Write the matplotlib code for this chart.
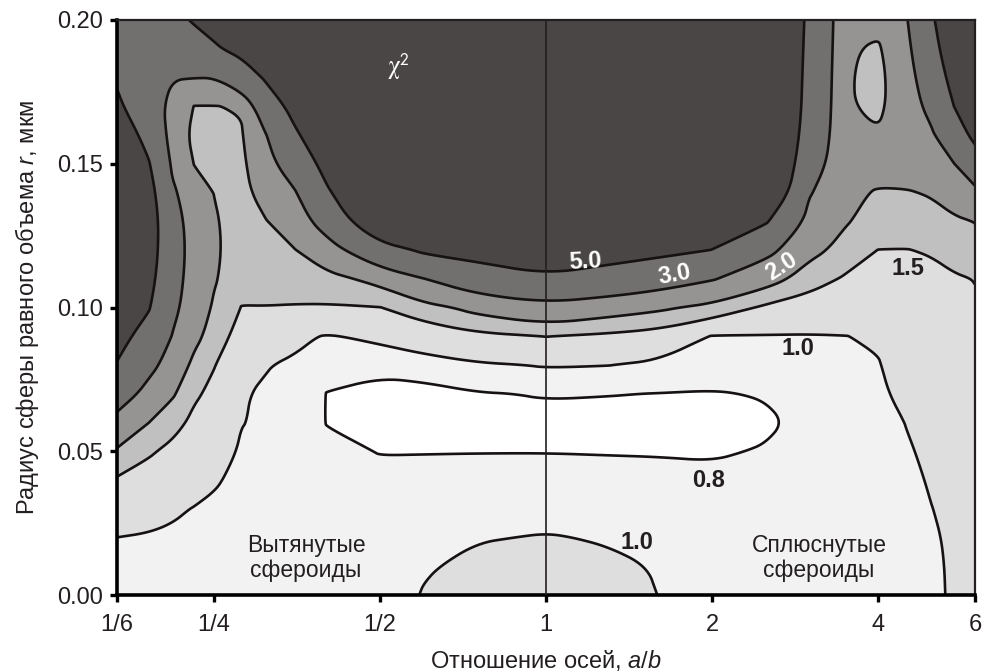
import numpy as np
import matplotlib
matplotlib.use("Agg")
import matplotlib.pyplot as plt
from matplotlib.path import Path
from matplotlib.ticker import FixedLocator, FixedFormatter, NullLocator

plt.rcParams['font.family'] = ['Liberation Sans', 'DejaVu Sans']
plt.rcParams['mathtext.fontset'] = 'custom'
plt.rcParams['mathtext.rm'] = 'Liberation Sans'
plt.rcParams['mathtext.it'] = 'Liberation Sans:italic'
plt.rcParams['mathtext.sf'] = 'Liberation Sans'

# ---- data ---------------------------------------------------------------
# axis ratio a/b of the spheroids (columns of the chi^2 table)
axis_ratio = [1/6, 0.19, 0.21, 0.23, 0.25, 0.28, 0.31, 0.35, 0.40, 0.50,
              0.60, 0.75, 1.00, 1.30, 1.60, 2.00, 2.50, 3.00, 3.50, 4.00,
              4.50, 5.00, 5.50, 6.00]

# radius of the equal-volume sphere r, um (rows of the chi^2 table)
radius = [0.00, 0.01, 0.02, 0.03, 0.04, 0.05, 0.06, 0.07, 0.08, 0.09, 0.10,
          0.11, 0.12, 0.13, 0.14, 0.15, 0.16, 0.17, 0.18, 0.19, 0.20]

# chi^2 versus r, one list per axis ratio
chi2_ab_0_167 = [0.88, 0.94, 0.999, 1.22, 1.446, 1.92, 2.63, 3.64, 4.91, 5.6, 6.0,
                 6.5, 6.8, 7.0, 6.8, 6.6, 6.2, 5.3, 4.8, 4.5, 4.3]
chi2_ab_0_19 = [0.86, 0.918, 0.976, 1.118, 1.322, 1.56, 2.01, 2.63, 3.36, 4.27, 5.15,
                5.6, 5.9, 6.0, 5.7, 5.15, 4.4, 3.8, 3.6, 3.7, 3.9]
chi2_ab_0_21 = [0.86, 0.91, 0.96, 1.04, 1.21, 1.39, 1.655, 2.08, 2.52, 2.96, 3.3,
                3.5, 3.6, 3.5, 3.2, 2.8, 2.5, 2.55, 3.05, 3.6, 4.4]
chi2_ab_0_23 = [0.87, 0.91, 0.95, 0.99, 1.12, 1.26, 1.40, 1.57, 1.83, 2.2, 2.4,
                2.5, 2.55, 2.5, 2.3, 1.98, 1.8, 1.98, 3.02, 4.0, 5.2]
chi2_ab_0_25 = [0.88, 0.91, 0.94, 0.97, 1.02, 1.15, 1.27, 1.39, 1.52, 1.72, 1.92,
                2.06, 2.1, 2.06, 1.99, 1.85, 1.88, 1.98, 3.02, 4.8, 5.6]
chi2_ab_0_28 = [0.88, 0.90, 0.92, 0.94, 0.955, 0.965, 1.01, 1.012, 1.15, 1.32, 1.49,
                1.62, 1.7, 1.75, 1.8, 1.85, 1.93, 2.05, 4.0, 5.5, 6.5]
chi2_ab_0_31 = [0.86, 0.87, 0.88, 0.90, 0.92, 0.94, 0.96, 0.98, 1.01, 1.26, 1.49,
                1.65, 1.8, 1.97, 2.3, 2.61, 2.94, 3.94, 5.2, 6.0, 6.8]
chi2_ab_0_35 = [0.85, 0.855, 0.86, 0.87, 0.88, 0.89, 0.90, 0.93, 0.97, 1.05, 1.47,
                1.73, 1.98, 2.43, 2.9, 3.76, 4.71, 5.6, 6.5, 7.2, 7.8]
chi2_ab_0_40 = [0.85, 0.85, 0.85, 0.85, 0.845, 0.83, 0.795, 0.795, 0.86, 0.98, 1.455,
                1.82, 2.5, 3.59, 4.76, 5.6, 6.5, 7.2, 7.8, 8.3, 8.6]
chi2_ab_0_50 = [0.92, 0.91, 0.89, 0.86, 0.83, 0.795, 0.74, 0.74, 0.85, 1.06, 1.49,
                2.2, 4.2, 7.0, 7.6, 8.0, 8.4, 8.7, 9.0, 9.2, 9.4]
chi2_ab_0_60 = [1.01, 0.985, 0.94, 0.89, 0.84, 0.795, 0.74, 0.755, 0.87, 1.206, 1.79,
                2.98, 5.3, 6.8, 7.6, 8.2, 8.6, 9.0, 9.3, 9.5, 9.6]
chi2_ab_0_75 = [1.08, 1.04, 0.99, 0.92, 0.86, 0.795, 0.75, 0.79, 0.96, 1.39, 2.2,
                3.9, 5.8, 7.0, 7.8, 8.4, 8.8, 9.2, 9.5, 9.7, 9.8]
chi2_ab_1_00 = [1.10, 1.06, 1.01, 0.94, 0.87, 0.795, 0.76, 0.81, 1.02, 1.51, 2.62,
                4.7, 6.5, 7.5, 8.2, 8.7, 9.1, 9.4, 9.7, 9.9, 10.0]
chi2_ab_1_30 = [1.07, 1.03, 0.985, 0.91, 0.86, 0.79, 0.75, 0.805, 1.005, 1.41, 2.3,
                4.15, 5.9, 7.0, 7.8, 8.4, 8.8, 9.2, 9.5, 9.7, 9.8]
chi2_ab_1_60 = [0.998, 0.99, 0.94, 0.89, 0.84, 0.79, 0.75, 0.797, 0.937, 1.29, 2.11,
                3.6, 5.5, 6.6, 7.4, 8.0, 8.5, 8.9, 9.2, 9.4, 9.5]
chi2_ab_2_00 = [0.94, 0.92, 0.89, 0.86, 0.83, 0.785, 0.74, 0.79, 0.88, 0.98, 1.81,
                3.08, 4.98, 6.2, 7.0, 7.6, 8.1, 8.5, 8.8, 9.0, 9.1]
chi2_ab_2_50 = [0.95, 0.93, 0.91, 0.88, 0.85, 0.81, 0.775, 0.81, 0.90, 0.98, 1.415,
                2.29, 3.35, 5.2, 7.0, 7.5, 7.8, 8.0, 8.0, 8.0, 8.0]
chi2_ab_3_00 = [0.95, 0.94, 0.92, 0.90, 0.88, 0.86, 0.84, 0.86, 0.91, 0.98, 1.28,
                1.71, 2.2, 2.64, 3.1, 3.7, 4.1, 4.3, 4.4, 4.5, 4.6]
chi2_ab_3_50 = [0.96, 0.95, 0.94, 0.93, 0.92, 0.91, 0.91, 0.92, 0.95, 0.995, 1.215,
                1.44, 1.78, 2.05, 2.1, 2.1, 2.08, 2.06, 2.06, 2.08, 2.1]
chi2_ab_4_00 = [0.97, 0.965, 0.96, 0.955, 0.95, 0.945, 0.94, 0.95, 0.98, 1.04, 1.23,
                1.37, 1.495, 1.73, 1.96, 2.2, 2.05, 1.85, 1.8, 1.9, 2.2]
chi2_ab_4_50 = [0.98, 0.975, 0.97, 0.97, 0.975, 0.985, 1.004, 1.08, 1.16, 1.25, 1.33,
                1.41, 1.49, 1.72, 1.96, 2.3, 2.4, 2.45, 2.55, 2.7, 2.9]
chi2_ab_5_00 = [0.985, 0.99, 0.993, 0.998, 1.01, 1.03, 1.07, 1.12, 1.18, 1.25, 1.32,
                1.41, 1.53, 1.8, 2.05, 2.45, 2.85, 3.35, 3.8, 4.3, 4.7]
chi2_ab_5_50 = [1.01, 1.008, 1.01, 1.025, 1.05, 1.09, 1.14, 1.2, 1.26, 1.33, 1.39,
                1.46, 1.65, 1.9, 2.38, 2.99, 4.0, 5.02, 5.7, 6.3, 6.8]
chi2_ab_6_00 = [1.08, 1.10, 1.13, 1.16, 1.19, 1.23, 1.27, 1.31, 1.36, 1.41, 1.46,
                1.51, 1.77, 2.02, 2.7, 3.99, 5.5, 6.2, 6.8, 7.2, 7.5]

# isoline levels of chi^2
levels = [0.8, 1.0, 1.5, 2.0, 3.0, 5.0]

# tick positions and labels
x_ticks = [1/6, 1/4, 1/2, 1, 2, 4, 6]
x_tick_labels = ['1/6', '1/4', '1/2', '1', '2', '4', '6']
y_ticks = [0.00, 0.05, 0.10, 0.15, 0.20]
y_tick_labels = ['0.00', '0.05', '0.10', '0.15', '0.20']

# where the level labels are written
label_level = [5.0, 3.0, 2.0, 1.5, 1.0, 0.8, 1.0]
label_ratio = [1.18, 1.714, 2.668, 4.53, 2.864, 1.975, 1.462]
label_radius = [0.1158, 0.1113, 0.1141, 0.1134, 0.0856, 0.0397, 0.0184]
label_angle = [3, 10, 33, 0, 0, 0, 0]
label_color = ['white', 'white', 'white', '#231f20', '#231f20', '#231f20', '#231f20']

X_MIN, X_MAX = 1/6, 6.0
Y_MIN, Y_MAX = 0.0, 0.2


# ---- isoline smoothing (corner cutting in the log-x plane) ------------
def _on_frame(u, y):
    return ((np.abs(u - np.log2(X_MIN)) < 1e-7) | (np.abs(u - np.log2(X_MAX)) < 1e-7)
            | (np.abs(y - Y_MIN) < 1e-9) | (np.abs(y - Y_MAX) < 1e-9))


def _chaikin(pts, closed, n_iter=3):
    for _ in range(n_iter):
        n = len(pts)
        if n < 3:
            return pts
        fixed = _on_frame(pts[:, 0], pts[:, 1])
        out = []
        if closed:
            for i in range(n):
                p, q = pts[i], pts[(i + 1) % n]
                if fixed[i]:
                    out.append(p)
                out.append(0.75 * p + 0.25 * q)
                out.append(0.25 * p + 0.75 * q)
        else:
            out.append(pts[0])
            for i in range(n - 1):
                p, q = pts[i], pts[i + 1]
                if i > 0 and fixed[i]:
                    out.append(p)
                out.append(0.75 * p + 0.25 * q)
                out.append(0.25 * p + 0.75 * q)
            out.append(pts[-1])
        pts = np.array(out)
    return pts


def _smooth_path(path):
    verts = np.asarray(path.vertices, float)
    if len(verts) == 0:
        return path
    codes = path.codes
    if codes is None:
        codes = np.full(len(verts), Path.LINETO, dtype=np.uint8)
        codes[0] = Path.MOVETO
    starts = list(np.flatnonzero(codes == Path.MOVETO)) + [len(verts)]
    new_v, new_c = [], []
    for a, b in zip(starts[:-1], starts[1:]):
        seg_v, seg_c = verts[a:b], codes[a:b]
        closed = seg_c[-1] == Path.CLOSEPOLY
        pts = seg_v[:-1] if closed else seg_v
        if not closed and len(pts) > 3 and np.allclose(pts[0], pts[-1]):
            closed = True
            pts = pts[:-1]
        uv = np.column_stack([np.log2(pts[:, 0]), pts[:, 1]])
        uv = _chaikin(uv, closed)
        xy = np.column_stack([2.0 ** uv[:, 0], uv[:, 1]])
        c = np.full(len(xy), Path.LINETO, dtype=np.uint8)
        c[0] = Path.MOVETO
        new_v.append(xy)
        new_c.append(c)
        if closed:
            new_v.append(xy[:1])
            new_c.append(np.array([Path.CLOSEPOLY], dtype=np.uint8))
    return Path(np.concatenate(new_v), np.concatenate(new_c))


def _smooth_set(cset):
    paths = [_smooth_path(p) for p in cset.get_paths()]
    try:
        cset.set_paths(paths)
    except Exception:
        cset._paths = paths
    cset.stale = True


# ---- figure -------------------------------------------------------------
chi2 = np.column_stack([
    chi2_ab_0_167, chi2_ab_0_19, chi2_ab_0_21, chi2_ab_0_23, chi2_ab_0_25,
    chi2_ab_0_28, chi2_ab_0_31, chi2_ab_0_35, chi2_ab_0_40, chi2_ab_0_50,
    chi2_ab_0_60, chi2_ab_0_75, chi2_ab_1_00, chi2_ab_1_30, chi2_ab_1_60,
    chi2_ab_2_00, chi2_ab_2_50, chi2_ab_3_00, chi2_ab_3_50, chi2_ab_4_00,
    chi2_ab_4_50, chi2_ab_5_00, chi2_ab_5_50, chi2_ab_6_00])

fig = plt.figure(figsize=(9.82, 6.71), dpi=100)
ax = fig.add_axes([117 / 982, 76 / 671, 858 / 982, 575 / 671])

fill_levels = [0.0] + levels + [50.0]
fill_colors = ['#ffffff', '#f2f2f2', '#dedede', '#c0c0c0',
               '#969492', '#72706e', '#4a4646']
cf = ax.contourf(axis_ratio, radius, chi2, levels=fill_levels, colors=fill_colors,
                 antialiased=True)
cs = ax.contour(axis_ratio, radius, chi2, levels=levels, colors='#161213',
                linewidths=1.9)
_smooth_set(cf)
_smooth_set(cs)
try:
    cs.set_joinstyle('round')
    cs.set_capstyle('round')
except Exception:
    pass

ax.axvline(1.0, color='#231f20', lw=1.2, zorder=3)

ax.set_xscale('log', base=2)
ax.set_xlim(X_MIN, X_MAX)
ax.set_ylim(Y_MIN, Y_MAX)
ax.xaxis.set_major_locator(FixedLocator(x_ticks))
ax.xaxis.set_major_formatter(FixedFormatter(x_tick_labels))
ax.xaxis.set_minor_locator(NullLocator())
ax.yaxis.set_major_locator(FixedLocator(y_ticks))
ax.yaxis.set_major_formatter(FixedFormatter(y_tick_labels))

ax.tick_params(axis='both', which='major', direction='out', length=5,
               width=2.4, labelsize=17, color='black', labelcolor='#231f20')
ax.tick_params(axis='x', pad=9)
ax.tick_params(axis='y', pad=5)
ax.tick_params(top=False, right=False)

for side in ('left', 'bottom'):
    ax.spines[side].set_linewidth(2.6)
    ax.spines[side].set_color('black')
for side in ('top', 'right'):
    ax.spines[side].set_linewidth(1.6)
    ax.spines[side].set_color('#231f20')

ax.set_xlabel('Отношение осей, $a$/$b$', fontsize=17, color='#231f20', labelpad=8)
ax.set_ylabel('Радиус сферы равного объема $r$, мкм', fontsize=17,
              color='#231f20', labelpad=12)

for lev, xr, yr, ang, col in zip(label_level, label_ratio, label_radius,
                                 label_angle, label_color):
    ax.text(xr, yr, f'{lev:.1f}', fontsize=17, fontweight='bold', color=col,
            ha='center', va='center', rotation=ang, zorder=4)

ax.text(0.541, 0.1837, r'$\mathrm{\chi}^{\mathsf{2}}$', fontsize=18, color='white',
        ha='center', va='center', zorder=4, math_fontfamily='stix')
ax.text(0.367, 0.0129, 'Вытянутые\nсфероиды', fontsize=16.5, color='#231f20',
        ha='center', va='center', linespacing=1.1, zorder=4)
ax.text(3.127, 0.0129, 'Сплюснутые\nсфероиды', fontsize=16.5, color='#231f20',
        ha='center', va='center', linespacing=1.1, zorder=4)

fig.savefig('out.png', dpi=100)
